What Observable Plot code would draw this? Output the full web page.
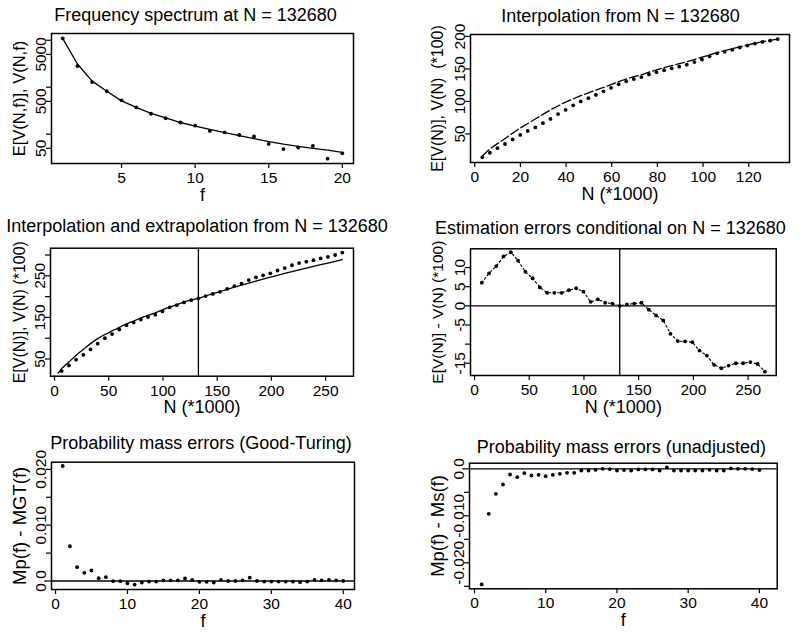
<!DOCTYPE html>
<html><head><meta charset="utf-8">
<script src="https://cdn.jsdelivr.net/npm/d3@7"></script>
<script src="https://cdn.jsdelivr.net/npm/@observablehq/plot@0.6"></script>
<style>
body{margin:0;background:#fff}
#chart{position:relative;width:807px;height:633px;overflow:hidden;background:#fff}
#chart svg{position:absolute}
</style></head><body><div id="chart"></div>
<script>
const FONT = "'Liberation Sans', Arial, Helvetica, sans-serif";

// ---------- Panel 1: frequency spectrum ----------
const spectrumF = [1,2,3,4,5,6,7,8,9,10,11,12,13,14,15,16,17,18,19,20];
const spectrumObserved = [11000,2830,1285,820,526,371,272,218,177,152,117,109,96,89,62,48,52,56,30,39];
const spectrumExpected = [11000,3125,1346,820,512,371,276,221,177,149,126,108,93,80,69,61,55,50,45.5,41];
const p1XTicks = [5,10,15,20];
const p1YTicks = [50,100,500,1000,5000,10000];
const p1YLabels = ["50","","500","","5000",""];

// ---------- Panel 2: interpolation ----------
const interpN = [3.317,6.634,9.951,13.268,16.585,19.902,23.219,26.536,29.853,33.17,36.487,39.804,43.121,46.438,49.755,53.072,56.389,59.706,63.023,66.34,69.657,72.974,76.291,79.608,82.925,86.242,89.559,92.876,96.193,99.51,102.827,106.144,109.461,112.778,116.095,119.412,122.729,126.046,129.363,132.68];
const interpObserved = [14,21,28,34.5,41.5,48.5,54.5,60,66.5,73,80.5,87,94,100,105,110,115.5,121,126.5,131,134.5,137.5,141.5,145,148,151,153.5,156.5,160.5,164.5,169.5,174,176.5,179.5,183,186,189,191.5,193.5,196];
const interpExpected = [16,27,35,43,51,59,66,73,80,87,93,99,104,109,113,117.5,121.5,126,130.5,134.5,138,141,145,148.5,152,155,158,161,164.5,168,171.5,175,178,181,184,187,189.5,192,194,196];
const p2XTicks = [0,20,40,60,80,100,120];
const p2YTicks = [50,100,150,200];
const p2YLabels = ["50","100","150","200"];

// ---------- Panel 3: interpolation and extrapolation ----------
const extrapN = [6.634,13.268,19.902,26.536,33.17,39.804,46.438,53.072,59.706,66.34,72.974,79.608,86.242,92.876,99.51,106.144,112.778,119.412,126.046,132.68,139.314,145.948,152.582,159.216,165.85,172.484,179.118,185.752,192.386,199.02,205.654,212.288,218.922,225.556,232.19,238.824,245.458,252.092,258.726,265.36];
const extrapObserved = [21,34.5,48.5,60,73,87,100,110,121,131,137.5,145,151,156.5,164.5,174,179.5,186,191.5,196,201.2,206.4,211.5,218.5,225.1,231.4,239.8,246.5,251.3,256.1,262.8,268.6,275.4,280.6,284.1,287.7,291.8,295.5,300,305.9];
const extrapTailN = [139.314,145.948,152.582,159.216,165.85,172.484,179.118,185.752,192.386,199.02,205.654,212.288,218.922,225.556,232.19,238.824,245.458,252.092,258.726,265.36];
const extrapTailExpected = [201.5,207,212.3,217.5,222.6,227.6,232.5,237.3,242,246.6,251.1,255.6,260,264.3,268.5,272.7,276.8,280.8,284.8,288.7];
const sampleN = 132.68;
const p3XTicks = [0,50,100,150,200,250];
const p3YTicks = [50,100,150,200,250,300];
const p3YLabels = ["50","","150","","250",""];

// ---------- Panel 4: estimation errors ----------
const estimationErrors = [6.05,8.5,10.4,12.9,14.0,11.8,8.9,7.2,4.8,3.4,3.4,3.4,4.1,4.6,3.7,1.05,1.7,0.8,0.6,0,0.35,0.6,0.8,-1.0,-2.5,-3.8,-7.3,-9.2,-9.3,-9.5,-11.7,-13.0,-15.4,-16.3,-15.6,-15.0,-15.0,-14.7,-15.2,-17.2];
const p4YTicks = [-15,-10,-5,0,5,10];
const p4YLabels = ["-15","","-5","0","5","10"];

// ---------- Panels 5 & 6: probability mass errors ----------
const massF = [1,2,3,4,5,6,7,8,9,10,11,12,13,14,15,16,17,18,19,20,21,22,23,24,25,26,27,28,29,30,31,32,33,34,35,36,37,38,39,40];
const goodTuringErrors = [0.0206,0.00623,0.00247,0.00146,0.00188,0.0005,0.00069,-0.00003,-0.00003,-0.0004,-0.00063,-0.00027,-0.0001,-0.0001,0.0001,0.0001,0.0001,0.00045,0.0002,-0.00015,-0.00015,-0.00027,0.0002,0,0,0.0001,0.0006,0,-0.0001,-0.0001,-0.0001,-0.0001,-0.0001,-0.0002,-0.0001,0.0002,0.0001,0.0002,0.0001,0];
const unadjustedErrors = [-0.0246,-0.00957,-0.00532,-0.00334,-0.00121,-0.00179,-0.00093,-0.00143,-0.00128,-0.00157,-0.00128,-0.00106,-0.00085,-0.00085,-0.00036,-0.00036,-0.00021,0,-0.00007,-0.00036,-0.00028,-0.00036,-0.00014,-0.00014,-0.00014,-0.00036,0.00028,-0.00036,-0.00036,-0.00036,-0.00036,-0.00036,-0.00021,-0.00036,-0.00036,0.00007,0,0,-0.00007,-0.00028];
const massXTicks = [0,10,20,30,40];
const p5YTicks = [0,0.005,0.01,0.015,0.02];
const p5YLabels = ["0.0","","0.010","","0.020"];
const p6YTicks = [0,-0.005,-0.01,-0.015,-0.02,-0.025];
const p6YLabels = ["0.0","","-0.010","","-0.020",""];

// ---------- tables ----------
const zip = (xs, ys) => xs.map((x, i) => ({x, y: ys[i]}));
const p1Obs = zip(spectrumF, spectrumObserved);
const p1Exp = zip(spectrumF, spectrumExpected);
const p2Obs = zip(interpN, interpObserved);
const p2Exp = zip(interpN, interpExpected);
const p3Obs = zip(extrapN, extrapObserved);
const p3Exp = zip(interpN.concat(extrapTailN), interpExpected.concat(extrapTailExpected));
const p4Err = zip(extrapN, estimationErrors);
const p5 = zip(massF, goodTuringErrors);
const p6 = zip(massF, unadjustedErrors);

const chart = document.getElementById("chart");
const DOT = {r: 1.9, fill: "#000"};
const TICK_FS = 15.5, LABEL_FS = 18, TITLE_FS = 18;

function panel(c) {
  const mL = c.box[0] - c.left, mT = c.box[1] - c.top;
  const mR = c.left + c.width - c.box[2], mB = c.top + c.height - c.box[3];
  const yTickTable = c.yTicks.map((v, i) => ({v, label: c.yLabels[i]})).filter(d => d.label !== "");
  const svg = Plot.plot({
    width: c.width, height: c.height,
    marginLeft: mL, marginTop: mT, marginRight: mR, marginBottom: mB,
    style: {fontFamily: FONT, fontSize: TICK_FS + "px", color: "#000", background: "transparent", overflow: "visible", whiteSpace: "pre"},
    x: {type: "linear", domain: c.xDomain},
    y: {type: c.yType || "linear", domain: c.yDomain},
    marks: [
      ...c.marks,
      Plot.frame({stroke: "#000", strokeWidth: 1.5}),
      Plot.axisX({ticks: c.xTicks, tickFormat: d => String(d), tickSize: 5, tickPadding: 3.5, label: null, strokeWidth: 1.2}),
      Plot.axisY({ticks: c.yTicks, tickFormat: () => "", tickSize: 5, label: null, strokeWidth: 1.2}),
      Plot.text(yTickTable, {y: "v", text: "label", frameAnchor: "left", dx: -6, rotate: -90, textAnchor: "middle", lineAnchor: "bottom"}),
      Plot.text([c.title], {text: d => d, frameAnchor: "top", dx: c.titleDx, dy: c.titleDy, textAnchor: "middle", lineAnchor: "bottom", fontSize: TITLE_FS}),
      Plot.text([c.xLabel], {text: d => d, frameAnchor: "bottom", dx: c.xLabelDx || 0, dy: 37, textAnchor: "middle", lineAnchor: "bottom", fontSize: LABEL_FS}),
      Plot.text([c.yLabel], {text: d => d, frameAnchor: "left", dx: c.yLabelDx, rotate: -90, textAnchor: "middle", lineAnchor: "bottom", fontSize: c.yLabelFs || LABEL_FS})
    ]
  });
  svg.style.left = c.left + "px";
  svg.style.top = c.top + "px";
  chart.appendChild(svg);
}

panel({
  left: 0, top: 0, width: 403, height: 211, box: [51, 33, 353, 163],
  xDomain: [0.24, 20.76], yDomain: [23.7, 13930], yType: "log",
  xTicks: p1XTicks, yTicks: p1YTicks, yLabels: p1YLabels,
  title: "Frequency spectrum at N = 132680", titleDx: -7, titleDy: -12.3,
  xLabel: "f", yLabel: "E[V(N,f)], V(N,f)", yLabelDx: -27, yLabelFs: 16.5,
  marks: [
    Plot.line(p1Exp, {x: "x", y: "y", stroke: "#000", strokeWidth: 1.3}),
    Plot.dot(p1Obs, {x: "x", y: "y", ...DOT})
  ]
});

panel({
  left: 403, top: 0, width: 404, height: 211, box: [470, 34, 789, 162],
  xDomain: [-1.86, 137.85], yDomain: [6, 203],
  xTicks: p2XTicks, yTicks: p2YTicks, yLabels: p2YLabels,
  title: "Interpolation from N = 132680", titleDx: -9.5, titleDy: -12.3,
  xLabel: "N (*1000)", xLabelDx: -10, yLabel: "E[V(N)], V(N)\u00A0 (*100)", yLabelDx: -28, yLabelFs: 16,
  marks: [
    Plot.line(p2Exp, {x: "x", y: "y", stroke: "#000", strokeWidth: 1.3, strokeDasharray: "9,3"}),
    Plot.dot(p2Obs, {x: "x", y: "y", ...DOT})
  ]
});

panel({
  left: 0, top: 211, width: 403, height: 210, box: [50, 247.7, 353, 375.7],
  xDomain: [-3.7, 275.7], yDomain: [8.7, 316.4],
  xTicks: p3XTicks, yTicks: p3YTicks, yLabels: p3YLabels,
  title: "Interpolation and extrapolation from N = 132680", titleDx: -5, titleDy: -16,
  xLabel: "N (*1000)", yLabel: "E[V(N)], V(N) (*100)", yLabelDx: -26, yLabelFs: 16,
  marks: [
    Plot.ruleX([sampleN], {stroke: "#000", strokeWidth: 1.3}),
    Plot.line(p3Exp, {x: "x", y: "y", stroke: "#000", strokeWidth: 1.3}),
    Plot.dot(p3Obs, {x: "x", y: "y", ...DOT})
  ]
});

panel({
  left: 403, top: 211, width: 404, height: 210, box: [470, 248.3, 775.7, 375],
  xDomain: [-3.7, 275.7], yDomain: [-18.2, 14.9],
  xTicks: p3XTicks, yTicks: p4YTicks, yLabels: p4YLabels,
  title: "Estimation errors conditional on N = 132680", titleDx: -13, titleDy: -15,
  xLabel: "N (*1000)", yLabel: "E[V(N)] - V(N) (*100)", yLabelDx: -28, yLabelFs: 15.5,
  marks: [
    Plot.ruleX([sampleN], {stroke: "#000", strokeWidth: 1.3}),
    Plot.ruleY([0], {stroke: "#000", strokeWidth: 1.3}),
    Plot.line(p4Err, {x: "x", y: "y", stroke: "#000", strokeWidth: 1.1, strokeDasharray: "2,2.5"}),
    Plot.dot(p4Err, {x: "x", y: "y", ...DOT})
  ]
});

panel({
  left: 0, top: 421, width: 403, height: 212, box: [51, 461.7, 354, 589],
  xDomain: [-0.56, 41.56], yDomain: [-0.00152, 0.02128],
  xTicks: massXTicks, yTicks: p5YTicks, yLabels: p5YLabels,
  title: "Probability mass errors (Good-Turing)", titleDx: -2, titleDy: -13.4,
  xLabel: "f", yLabel: "Mp(f) - MGT(f)", yLabelDx: -26, yLabelFs: 18.5,
  marks: [
    Plot.ruleY([0], {stroke: "#000", strokeWidth: 1.3}),
    Plot.dot(p5, {x: "x", y: "y", ...DOT})
  ]
});

panel({
  left: 403, top: 421, width: 404, height: 212, box: [469, 462.7, 776.7, 588.3],
  xDomain: [-0.7, 42.5], yDomain: [-0.02553, 0.00119],
  xTicks: massXTicks, yTicks: p6YTicks, yLabels: p6YLabels,
  title: "Probability mass errors (unadjusted)", titleDx: -2, titleDy: -10.4,
  xLabel: "f", yLabel: "Mp(f) - Ms(f)", yLabelDx: -25.5, yLabelFs: 18.5,
  marks: [
    Plot.ruleY([0], {stroke: "#000", strokeWidth: 1.3}),
    Plot.dot(p6, {x: "x", y: "y", ...DOT})
  ]
});
</script></body></html>
